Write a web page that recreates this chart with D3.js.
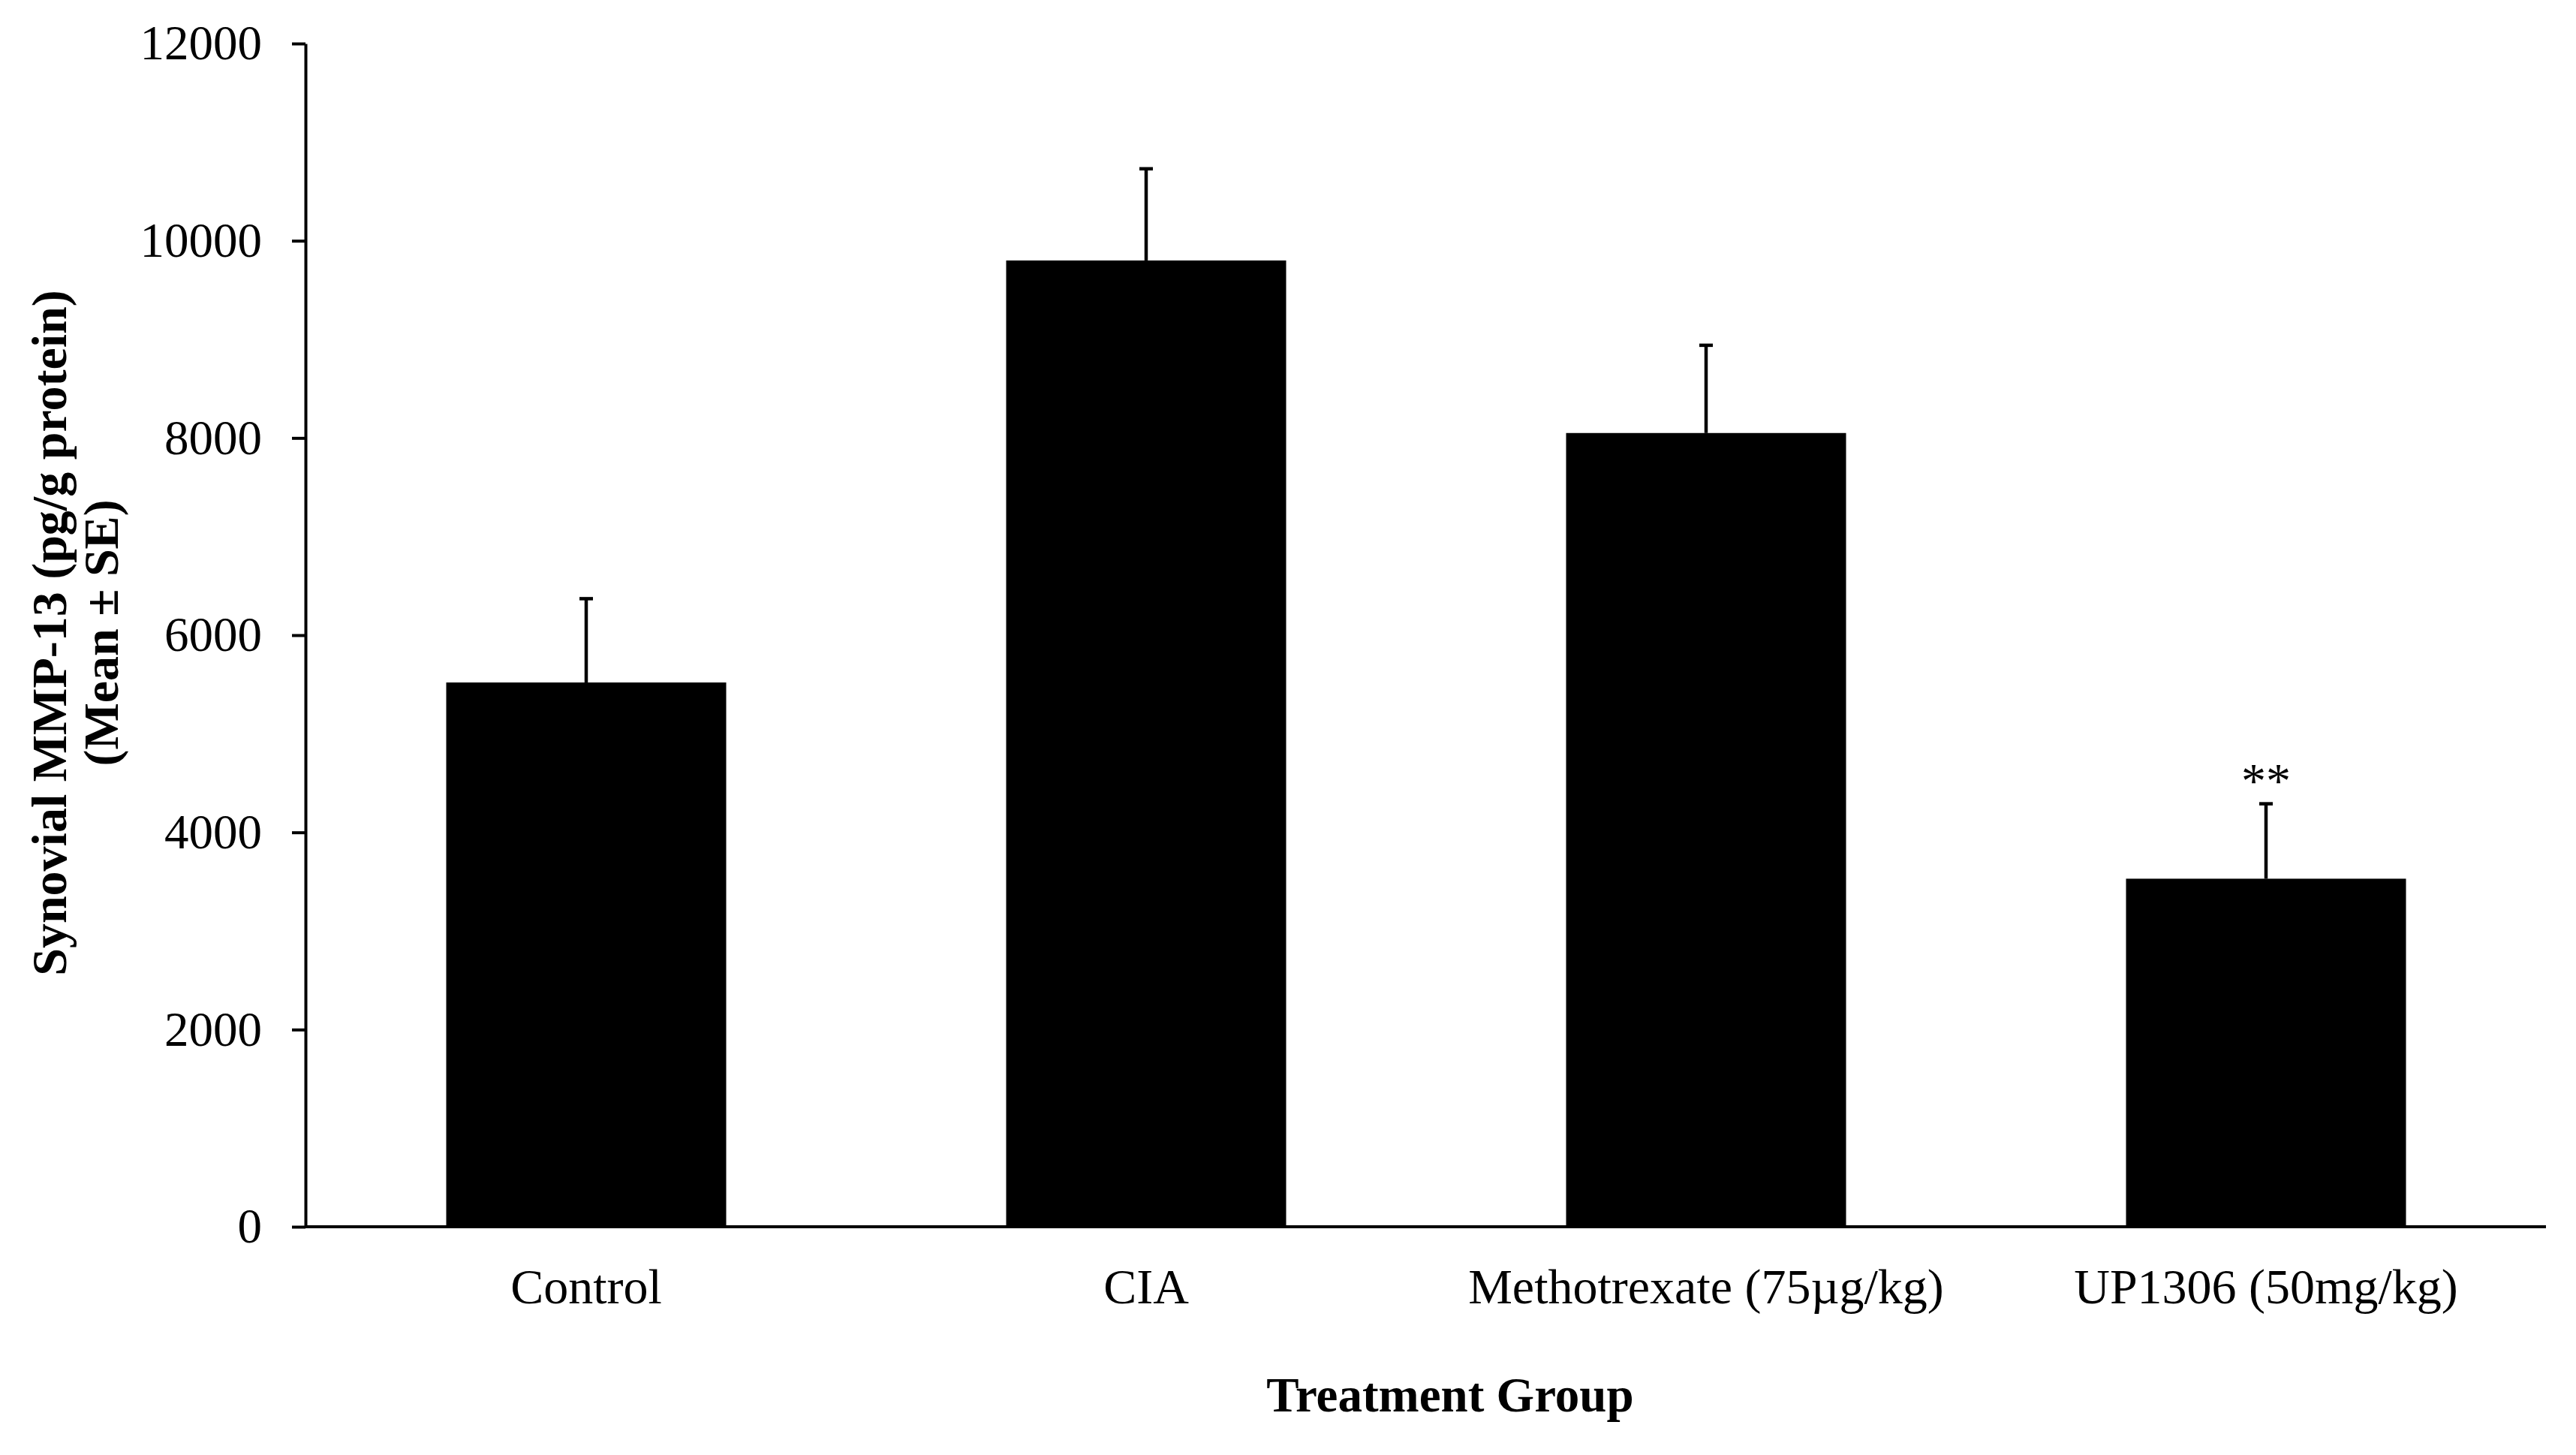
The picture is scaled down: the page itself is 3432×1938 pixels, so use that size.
<!DOCTYPE html>
<html>
<head>
<meta charset="utf-8">
<script src="https://cdn.jsdelivr.net/npm/d3@7"></script>
<style>
  html, body { margin: 0; padding: 0; background: #fff; }
  svg { display: block; font-family: "Liberation Serif", "Times New Roman", serif; }
</style>
</head>
<body>
<div id="chart"></div>
<script>
// data
const groups = ["Control", "CIA", "Methotrexate (75\u00b5g/kg)", "UP1306 (50mg/kg)"];
const means  = [5520, 9800, 8050, 3530];
const errors = [850, 930, 890, 760];
const marks  = ["", "", "", "**"];
const yTicks = [0, 2000, 4000, 6000, 8000, 10000, 12000];

const width = 3432, height = 1938;
const m = { top: 58, right: 40, bottom: 304, left: 408 };

const root = d3.select("#chart").append("svg")
    .attr("width", width)
    .attr("height", height)
    .attr("viewBox", `0 0 ${width} ${height}`);

const x = d3.scaleBand()
    .domain(groups)
    .range([m.left, width - m.right])
    .paddingInner(0.5)
    .paddingOuter(0.25);

const y = d3.scaleLinear()
    .domain([0, 12000])
    .range([height - m.bottom, m.top]);

const rows = groups.map((g, i) => ({ g, mean: means[i], err: errors[i], mark: marks[i] }));

// bars
root.append("g").selectAll("rect")
    .data(rows)
    .join("rect")
        .attr("x", d => x(d.g))
        .attr("y", d => y(d.mean))
        .attr("width", x.bandwidth())
        .attr("height", d => y(0) - y(d.mean))
        .attr("fill", "#000");

// upper error bars
const eb = root.append("g").attr("stroke", "#000").attr("stroke-width", 4.5);
eb.selectAll("line.v")
    .data(rows)
    .join("line")
        .attr("class", "v")
        .attr("x1", d => x(d.g) + x.bandwidth() / 2)
        .attr("x2", d => x(d.g) + x.bandwidth() / 2)
        .attr("y1", d => y(d.mean))
        .attr("y2", d => y(d.mean + d.err));
eb.selectAll("line.cap")
    .data(rows)
    .join("line")
        .attr("class", "cap")
        .attr("x1", d => x(d.g) + x.bandwidth() / 2 - 9)
        .attr("x2", d => x(d.g) + x.bandwidth() / 2 + 9)
        .attr("y1", d => y(d.mean + d.err))
        .attr("y2", d => y(d.mean + d.err));

// significance marks
root.append("g").selectAll("text")
    .data(rows.filter(d => d.mark))
    .join("text")
        .attr("x", d => x(d.g) + x.bandwidth() / 2)
        .attr("y", d => y(d.mean + d.err) - 9)
        .attr("text-anchor", "middle")
        .attr("font-size", 66)
        .text(d => d.mark);

// y axis
const yAxis = root.append("g")
    .attr("transform", `translate(${m.left - 1},0)`)
    .call(d3.axisLeft(y).tickValues(yTicks).tickFormat(d3.format("d"))
        .tickSize(18).tickSizeOuter(0).tickPadding(40));
yAxis.selectAll("text").attr("font-size", 65).attr("fill", "#000")
    .attr("font-family", "Liberation Serif, serif");
yAxis.selectAll("line, path").attr("stroke", "#000").attr("stroke-width", 4);

// x axis
const xAxis = root.append("g")
    .attr("transform", `translate(0,${y(0)})`)
    .call(d3.axisBottom(x).tickSize(0).tickSizeOuter(0).tickPadding(55));
xAxis.select("path").attr("stroke", "#000").attr("stroke-width", 4)
    .attr("d", `M${m.left - 2},0H${width - m.right}`);
xAxis.selectAll("text").attr("font-size", 66).attr("fill", "#000")
    .attr("font-family", "Liberation Serif, serif");

// axis titles
root.append("text")
    .attr("x", 1932)
    .attr("y", 1880)
    .attr("text-anchor", "middle")
    .attr("font-size", 65)
    .attr("font-weight", "bold")
    .text("Treatment Group");

const yt = root.append("text")
    .attr("transform", "translate(88,843) rotate(-90)")
    .attr("text-anchor", "middle")
    .attr("font-size", 66)
    .attr("font-weight", "bold");
yt.append("tspan").attr("x", 0).attr("y", 0).text("Synovial MMP-13 (pg/g protein)");
yt.append("tspan").attr("x", 0).attr("y", 69).text("(Mean \u00b1 SE)");
</script>
</body>
</html>
